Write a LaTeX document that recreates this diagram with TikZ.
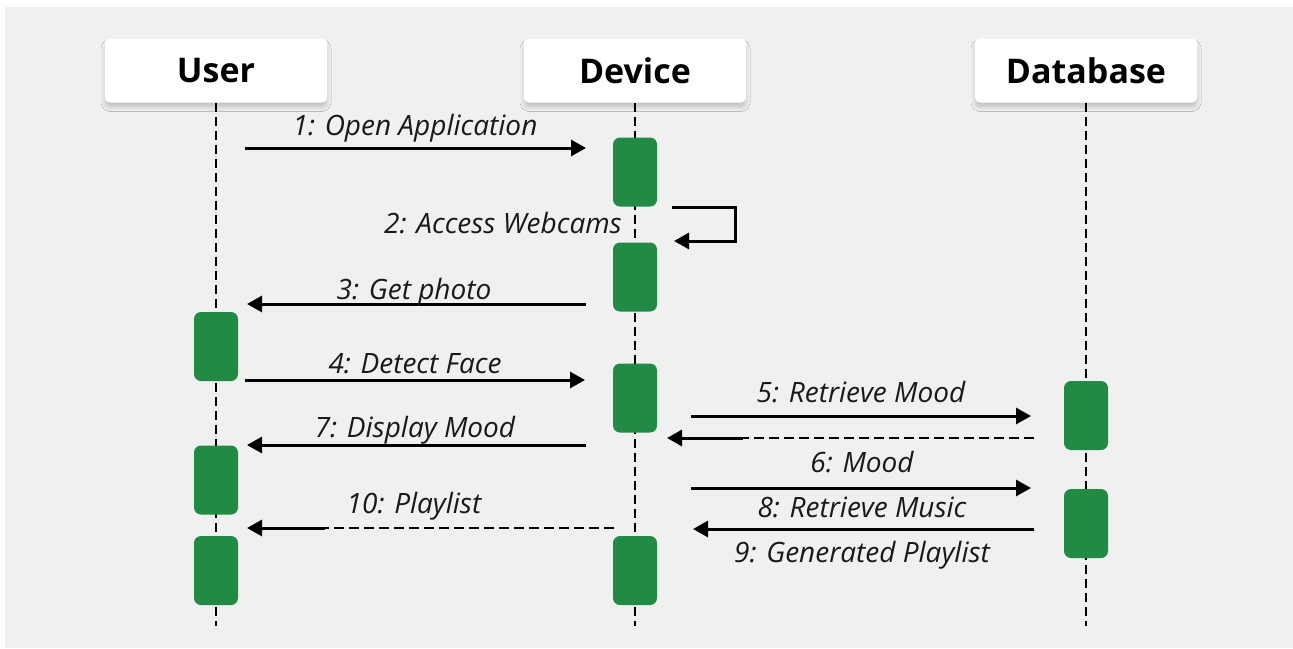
\documentclass[tikz,border=0pt]{standalone}
\usepackage{fontspec}
\setmainfont{Open Sans}
\usetikzlibrary{arrows.meta,shadows.blur}
\definecolor{bggray}{RGB}{240,240,240}
\definecolor{actgreen}{RGB}{33,138,68}
\definecolor{ink}{RGB}{25,25,25}
\begin{document}
\begin{tikzpicture}[x=1pt,y=-1pt,
  header/.style={fill=white, rounded corners=5pt, minimum width=222pt,
    minimum height=64pt, inner sep=0pt,
    font=\fontsize{34}{40}\selectfont\bfseries,
    blur shadow={shadow xshift=0pt, shadow yshift=-5pt,
      shadow blur radius=4pt, shadow opacity=18}},
  lifeline/.style={line width=2.6pt, dash pattern=on 9pt off 5pt},
  act/.style={fill=actgreen, rounded corners=7pt, minimum width=44pt,
    minimum height=69pt, inner sep=0pt},
  msg/.style={line width=3pt, -{Triangle[length=15pt,width=16pt]}},
  retline/.style={line width=2.8pt, dash pattern=on 10pt off 5pt},
  lbl/.style={anchor=base, inner sep=0pt, text=ink,
    font=\fontsize{28}{32}\selectfont\itshape},
]
% canvas and backdrop
\useasboundingbox (0,0) rectangle (1293,648);
\fill[white] (0,0) rectangle (1293,648);
\fill[bggray] (5,7) rectangle (1293,648);

% participants
\node[header] (user) at (216,70.5) {User};
\node[header] (device) at (635,70.5) {Device};
\node[header] (db) at (1086,70.5) {Database};

% lifeline ends
\coordinate (userend) at (216,626);
\coordinate (deviceend) at (635,626);
\coordinate (dbend) at (1086,626);
\draw[lifeline] (user.south) -- (userend);
\draw[lifeline] (device.south) -- (deviceend);
\draw[lifeline] (db.south) -- (dbend);

% activation bars
\node[act] (d1) at (635,172) {};
\node[act] (d2) at (635,277) {};
\node[act] (d3) at (635,398) {};
\node[act] (d4) at (635,570.5) {};
\node[act] (u1) at (216,346.5) {};
\node[act] (u2) at (216,480) {};
\node[act] (u3) at (216,570.5) {};
\node[act] (b1) at (1086,415.5) {};
\node[act] (b2) at (1086,523.5) {};

% message end points
\coordinate (m1s) at (245,148);  \coordinate (m1e) at (586,148);
\coordinate (m2s) at (672,207);  \coordinate (m2c) at (735,207);
\coordinate (m2d) at (735,241);  \coordinate (m2e) at (674,241);
\coordinate (m3s) at (586,304);  \coordinate (m3e) at (247,304);
\coordinate (m4s) at (245,380);  \coordinate (m4e) at (585,380);
\coordinate (m5s) at (691,416);  \coordinate (m5e) at (1031,416);
\coordinate (r5s) at (1034,438); \coordinate (r5m) at (743,438);
\coordinate (r5e) at (667,438);
\coordinate (m6s) at (691,488);  \coordinate (m6e) at (1031,488);
\coordinate (m7s) at (586,445);  \coordinate (m7e) at (247,445);
\coordinate (m8s) at (1034,529); \coordinate (m8e) at (693,529);
\coordinate (m10s) at (614,528); \coordinate (m10m) at (325,528);
\coordinate (m10e) at (247,528);

% messages
\draw[msg] (m1s) -- (m1e);
\draw[line width=3pt, line join=miter, -{Triangle[length=15pt,width=16pt]}]
  (m2s) -- (m2c) -- (m2d) -- (m2e);
\draw[msg] (m3s) -- (m3e);
\draw[msg] (m4s) -- (m4e);
\draw[msg] (m5s) -- (m5e);
\draw[retline] (r5s) -- (r5m);
\draw[msg] (r5m) -- (r5e);
\draw[msg] (m6s) -- (m6e);
\draw[msg] (m7s) -- (m7e);
\draw[msg] (m8s) -- (m8e);
\draw[retline] (m10s) -- (m10m);
\draw[msg] (m10m) -- (m10e);

% message labels
\node[lbl] (l1) at (415,135) {1: Open Application};
\node[lbl, anchor=base east] (l2) at (622,233) {2: Access Webcams};
\node[lbl] (l3) at (414,299) {3: Get photo};
\node[lbl] (l4) at (415,373) {4: Detect Face};
\node[lbl] (l5) at (861,402) {5: Retrieve Mood};
\node[lbl] (l6) at (862,472) {6: Mood};
\node[lbl] (l7) at (415,437) {7: Display Mood};
\node[lbl] (l8) at (862,517) {8: Retrieve Music};
\node[lbl] (l9) at (862,562) {9: Generated Playlist};
\node[lbl] (l10) at (414,513) {10: Playlist};
\end{tikzpicture}
\end{document}
